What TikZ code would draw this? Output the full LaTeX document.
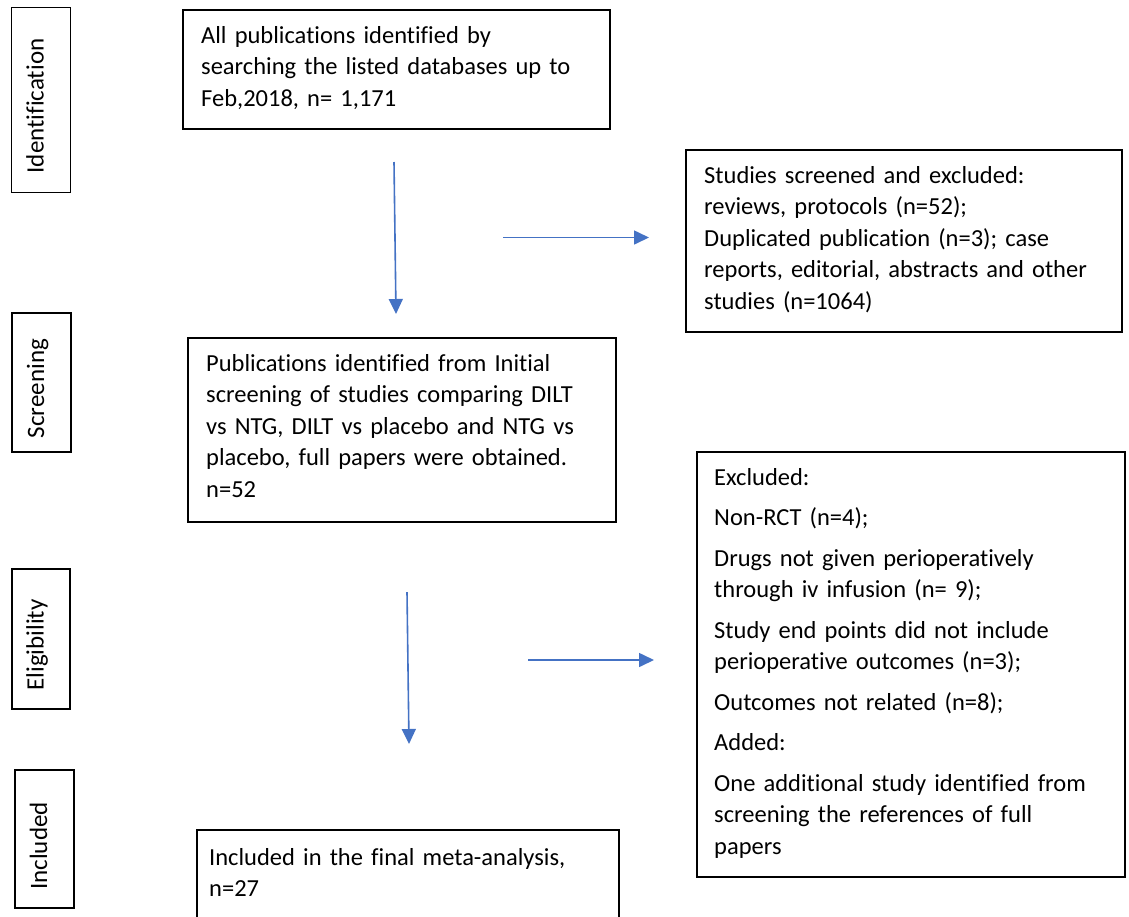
\documentclass[tikz,border=0pt]{standalone}
\usepackage{fontspec}
\setmainfont{Carlito}[Ligatures=NoCommon]
\usetikzlibrary{arrows.meta,calc}
\definecolor{arrowblue}{HTML}{4472C4}
\begin{document}
\begin{tikzpicture}[x=1pt,y=-1pt,
  box/.style={draw=black, line width=1.5pt, inner sep=0pt, anchor=north west},
  txt/.style={anchor=base west, inner sep=0pt, align=left, text width=#1,
    font=\fontsize{24.5}{31.5}\selectfont},
  sidebox/.style={draw=black, line width=1.5pt, inner sep=0pt},
  sidetxt/.style={rotate=90, inner sep=0pt, anchor=base,
    font=\fontsize{25}{28}\selectfont},
  arr/.style={draw=arrowblue, line width=1.6pt, -{Triangle[length=15pt,width=14pt]}}]
\useasboundingbox (0,0) rectangle (1129,916);
\clip (0,0) rectangle (1129,916);

% stage labels
\node[sidebox, minimum width=59, minimum height=185] (sid) at (41.2,100) {};
\node[sidetxt] (tid) at ($(sid.center)+(2.5,6)$) {Identification};
\node[sidebox, minimum width=59, minimum height=139] (sscr) at (41.5,382.5) {};
\node[sidetxt] (tscr) at ($(sscr.center)+(2.5,6)$) {Screening};
\node[sidebox, minimum width=58, minimum height=140] (selig) at (41,639) {};
\node[sidetxt] (telig) at ($(selig.center)+(2.5,6)$) {Eligibility};
\node[sidebox, minimum width=59, minimum height=138] (sinc) at (44.5,839) {};
\node[sidetxt] (tinc) at ($(sinc.center)+(2.5,7)$) {Included};

% boxes
\node[box, minimum width=427, minimum height=119] (b1) at (182,9) {};
\node[txt=420] (t1) at ($(b1.north west)+(19,34)$)
  {All publications identified by\\searching the listed databases up to\\Feb,2018, n= 1,171};

\node[box, minimum width=436, minimum height=182] (b2) at (685,149) {};
\node[txt=420] (t2) at ($(b2.north west)+(19,34)$)
  {Studies screened and excluded:\\reviews, protocols (n=52);\\Duplicated publication (n=3); case\\reports, editorial, abstracts and other\\studies (n=1064)};

\node[box, minimum width=428, minimum height=184] (b3) at (187,337) {};
\node[txt=420] (t3) at ($(b3.north west)+(19,34)$)
  {Publications identified from Initial\\screening of studies comparing DILT\\vs NTG, DILT vs placebo and NTG vs\\placebo, full papers were obtained.\\n=52};

\node[box, minimum width=428, minimum height=425] (b4) at (696,451) {};
\node[txt=420] (t4) at ($(b4.north west)+(18,34)$)
  {Excluded:\\[9pt]Non-RCT (n=4);\\[9pt]Drugs not given perioperatively\\through iv infusion (n= 9);\\[9pt]Study end points did not include\\perioperative outcomes (n=3);\\[9pt]Outcomes not related (n=8);\\[9pt]Added:\\[9pt]One additional study identified from\\screening the references of full\\papers};

\node[box, minimum width=422, minimum height=110] (b5) at (196,829) {};
\node[txt=420] (t5) at ($(b5.north west)+(13,36)$)
  {Included in the final meta-analysis,\\n=27};

% arrows
\coordinate (a1s) at (394,162);
\coordinate (a1e) at (396,314);
\coordinate (a2s) at (503,237.5);
\coordinate (a2e) at (649,237.5);
\coordinate (a3s) at (407,592);
\coordinate (a3e) at (409,744);
\coordinate (a4s) at (528,660);
\coordinate (a4e) at (654,660);
\draw[arr] (a1s) -- (a1e);
\draw[arr] (a2s) -- (a2e);
\draw[arr] (a3s) -- (a3e);
\draw[arr] (a4s) -- (a4e);
\end{tikzpicture}
\end{document}
